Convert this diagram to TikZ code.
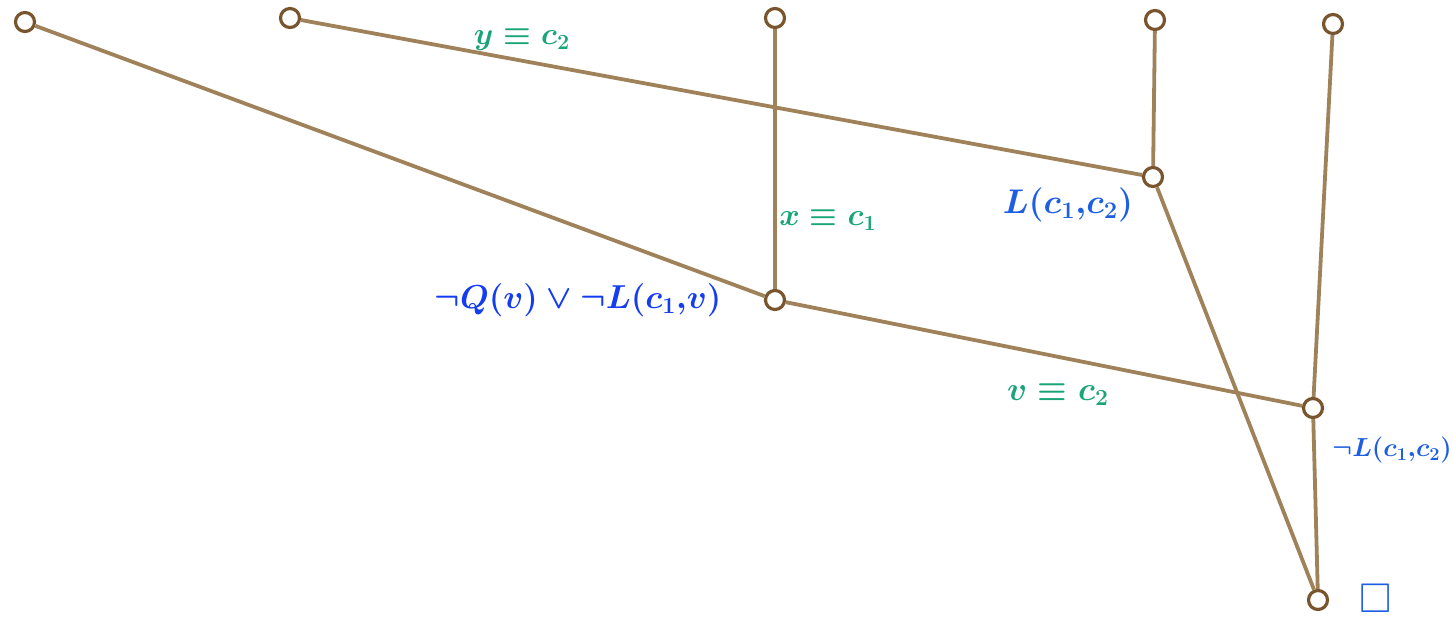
\documentclass[tikz,border=0pt]{standalone}
\usepackage{graphicx}
\usepackage{amsmath,amssymb}
\definecolor{edgebrown}{RGB}{160,130,90}
\definecolor{ringbrown}{RGB}{120,85,45}
\definecolor{lblgreen}{RGB}{26,165,120}
\definecolor{lblblue}{RGB}{30,95,225}
\definecolor{lbldblue}{RGB}{20,60,240}
\newcommand{\bigtxt}[2]{\scalebox{#1}{\fontsize{20.74}{24}\selectfont\boldmath$#2$}}
\begin{document}
\begin{tikzpicture}[x=1pt,y=-1pt,
  ring/.style={circle,draw=ringbrown,line width=3.2pt,fill=white,minimum size=19pt,inner sep=0pt},
  edge/.style={draw=edgebrown,line width=3.8pt},
  subst/.style={text=lblgreen,inner sep=0pt},
  clause/.style={text=lblblue,inner sep=0pt}]
\useasboundingbox (0,0) rectangle (1453,624);
\node[ring] (a) at (25,22) {};
\node[ring] (b) at (290,18) {};
\node[ring] (c) at (775,18) {};
\node[ring] (d) at (1155,20) {};
\node[ring] (e) at (1333,24) {};
\node[ring] (f) at (1153,177) {};
\node[ring] (g) at (775,300) {};
\node[ring] (h) at (1313,408) {};
\node[ring] (i) at (1318,600) {};
\draw[edge] (a) -- (g);
\draw[edge] (b) -- (f);
\draw[edge] (c) -- (g);
\draw[edge] (d) -- (f);
\draw[edge] (e) -- (h);
\draw[edge] (g) -- (h);
\draw[edge] (f) -- (i);
\draw[edge] (h) -- (i);
\node[subst] (ly) at (522,40) {\bigtxt{1.5}{y\equiv c_2}};
\node[subst] (lx) at (828,220) {\bigtxt{1.5}{x\equiv c_1}};
\node[subst] (lv) at (1058,395) {\bigtxt{1.6}{v\equiv c_2}};
\node[clause] (lf) at (1068,205) {\bigtxt{1.65}{L(c_1{,}c_2)}};
\node[clause,text=lbldblue] (lg) at (578,300) {\bigtxt{1.6}{\neg Q(v)\vee\neg L(c_1{,}v)}};
\node[clause,anchor=west] (lh) at (1332,450) {\bigtxt{1.26}{\neg L(c_1{,}c_2)}};
\node[clause] (li) at (1376,598) {\bigtxt{2}{\square}};
\end{tikzpicture}
\end{document}
